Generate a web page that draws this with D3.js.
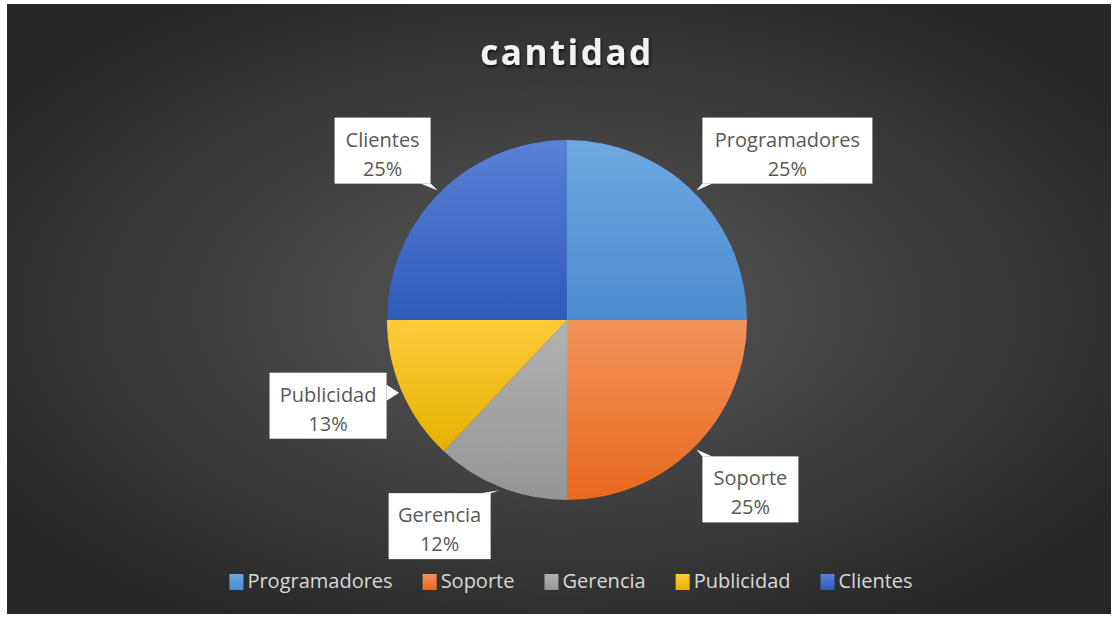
<!DOCTYPE html>
<html>
<head>
<script src="https://d3js.org/d3.v7.min.js"></script>
<style>
  body { margin: 0; background: #fff; }
  text { font-family: "Open Sans", sans-serif; }
</style>
</head>
<body>
<svg id="chart" width="1118" height="617"></svg>
<script>
// data
const categories = ["Programadores", "Soporte", "Gerencia", "Publicidad", "Clientes"];
const values = [25, 25, 12, 13, 25];
const percentLabels = ["25%", "25%", "12%", "13%", "25%"];
const chartTitle = "cantidad";

// colours: top / bottom of each slice gradient
const topColors = ["#6ea8e2", "#f3935c", "#b2b2b2", "#ffcb3a", "#5b80d6"];
const bottomColors = ["#4a8ccf", "#e8691c", "#959595", "#e5b100", "#2e5bb9"];

// label box nudges relative to arc point (styling only)
const boxNudge = [[91, -40], [54, 40], [-60, 36], [-71, 13], [-55, -40]];
const boxWidth = [170, 96, 102, 117, 96];
const boxHeight = 66;

const svg = d3.select("#chart");
const cx = 567, cy = 320, R = 180;

const defs = svg.append("defs");
const bg = defs.append("radialGradient").attr("id", "bg")
  .attr("cx", "50%").attr("cy", "50%").attr("r", "60%");
bg.append("stop").attr("offset", "0%").attr("stop-color", "#595959");
bg.append("stop").attr("offset", "100%").attr("stop-color", "#272727");

categories.forEach((c, i) => {
  const g = defs.append("linearGradient").attr("id", "g" + i)
    .attr("x1", 0).attr("y1", 0).attr("x2", 0).attr("y2", 1);
  g.append("stop").attr("offset", "0%").attr("stop-color", topColors[i]);
  g.append("stop").attr("offset", "100%").attr("stop-color", bottomColors[i]);
});

const shadow = defs.append("filter").attr("id", "tshadow");
shadow.append("feDropShadow").attr("dx", 1).attr("dy", 2).attr("stdDeviation", 1.5)
  .attr("flood-color", "#000").attr("flood-opacity", 0.7);

svg.append("rect").attr("x", 7).attr("y", 4).attr("width", 1104).attr("height", 610)
  .attr("fill", "url(#bg)");

svg.append("text")
  .attr("x", cx).attr("y", 65)
  .attr("text-anchor", "middle")
  .attr("font-size", 35).attr("font-weight", "bold")
  .attr("letter-spacing", 2.5)
  .attr("fill", "#f2f2f2")
  .attr("filter", "url(#tshadow)")
  .text(chartTitle);

const pie = d3.pie().sort(null).value(d => d);
const arcs = pie(values);
const arc = d3.arc().innerRadius(0).outerRadius(R);

const g = svg.append("g").attr("transform", `translate(${cx},${cy})`);
g.selectAll("path.slice").data(arcs).enter().append("path")
  .attr("class", "slice")
  .attr("d", arc)
  .attr("fill", (d, i) => "url(#g" + i + ")");

// callouts
arcs.forEach((d, i) => {
  const mid = (d.startAngle + d.endAngle) / 2;
  const tx = Math.sin(mid) * (R + 3), ty = -Math.cos(mid) * (R + 3);
  const bx = tx + boxNudge[i][0], by = ty + boxNudge[i][1];
  const w = boxWidth[i], h = boxHeight;
  const x0 = bx - w / 2, y0 = by - h / 2, x1 = bx + w / 2, y1 = by + h / 2;
  let base;
  if (ty < y0) base = [[Math.max(x0, Math.min(tx, x1) - 10), y0], [Math.min(x1, Math.max(tx, x0) + 10), y0]];
  else if (ty > y1) base = [[Math.max(x0, Math.min(tx, x1) - 10), y1], [Math.min(x1, Math.max(tx, x0) + 10), y1]];
  else if (tx > x1) base = [[x1, ty - 8], [x1, ty + 8]];
  else base = [[x0, ty - 8], [x0, ty + 8]];
  g.append("path")
    .attr("d", `M${base[0]}L${tx},${ty}L${base[1]}Z`)
    .attr("fill", "#fff");
  g.append("rect").attr("x", x0).attr("y", y0).attr("width", w).attr("height", h)
    .attr("fill", "#fff");
  const t = g.append("text").attr("text-anchor", "middle")
    .attr("font-size", 20).attr("fill", "#595959");
  t.append("tspan").attr("x", bx).attr("y", by - 4).text(categories[i]);
  t.append("tspan").attr("x", bx).attr("y", by + 25).text(percentLabels[i]);
});

// legend
const legend = svg.append("g");
const gap = 30;
let lx = 0;
categories.forEach((c, i) => {
  const it = legend.append("g");
  it.append("rect").attr("x", 0).attr("y", -14).attr("width", 14).attr("height", 16)
    .attr("fill", "url(#g" + i + ")");
  const tt = it.append("text").attr("x", 18).attr("y", 0)
    .attr("font-size", 20).attr("fill", "#d9d9d9").text(c);
  const tw = tt.node().getComputedTextLength();
  it.attr("transform", `translate(${lx},0)`);
  lx += 18 + tw + gap;
});
const totalW = lx - gap;
legend.attr("transform", `translate(${cx + 4 - totalW / 2},588)`);
</script>
</body>
</html>
